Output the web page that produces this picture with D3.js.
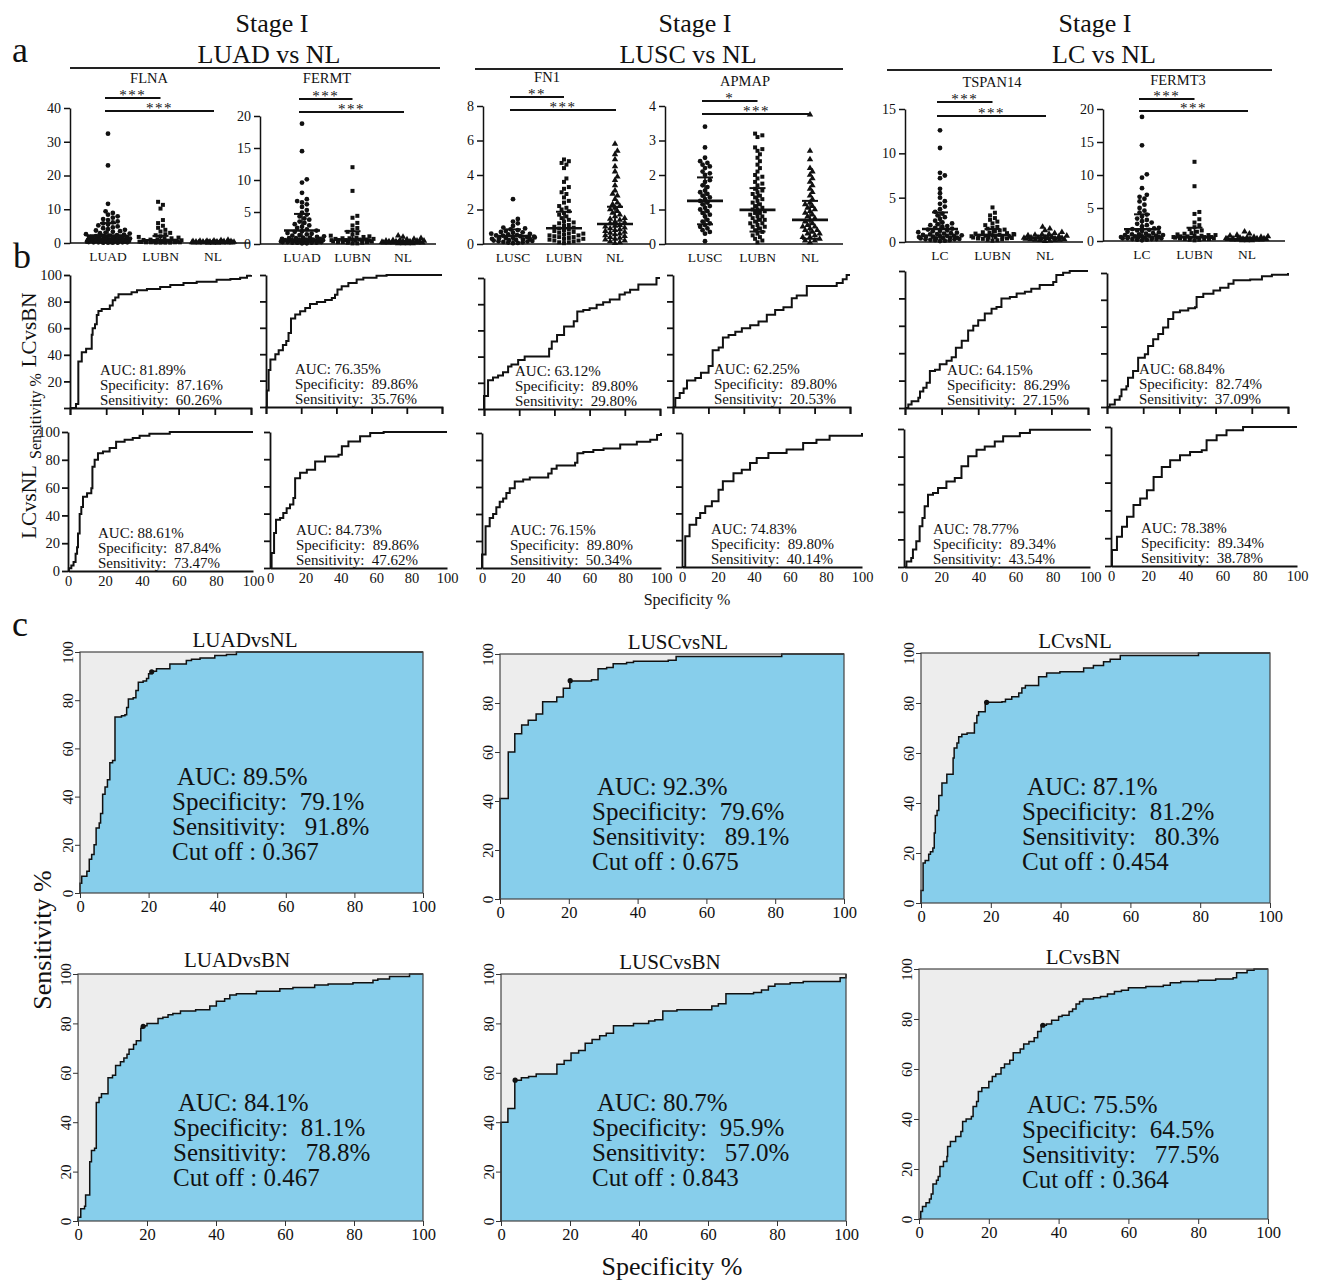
<!DOCTYPE html>
<html>
<head>
<meta charset="utf-8">
<script src="https://cdn.jsdelivr.net/npm/d3@7"></script>
<style>
  body { margin: 0; background: #fff; }
  svg { display: block; font-family: "Liberation Serif", "Times New Roman", serif; }
  text { white-space: pre; fill: #111; }
</style>
</head>
<body>
<svg id="fig" width="1319" height="1284"></svg>
<script>
// ---------- panel a : dot plots ----------
const headerStage = "Stage I";
const headerTitles = ["LUAD vs NL", "LUSC vs NL", "LC vs NL"];

const geneNames = ["FLNA", "FERMT", "FN1", "APMAP", "TSPAN14", "FERMT3"];
const dotGroups = [
  ["LUAD", "LUBN", "NL"], ["LUAD", "LUBN", "NL"],
  ["LUSC", "LUBN", "NL"], ["LUSC", "LUBN", "NL"],
  ["LC", "LUBN", "NL"], ["LC", "LUBN", "NL"]
];
const yMax = [40, 20, 8, 4, 15, 20];
const yStep = [10, 5, 2, 1, 5, 5];
const sigShort = ["***", "***", "**", "*", "***", "***"];
const sigLong = ["***", "***", "***", "***", "***", "***"];
const groupMeans = [[2.2, 0.8, 0.3], [2.1, 0.7, 0.35], [0.46, 0.91, 1.16], [1.25, 0.99, 0.7], [1.46, 0.79, 0.45], [1.77, 0.56, 0.3]];
const groupSD = [[3.7, 1.3, 0.2], [2.6, 1.3, 0.15], [0.39, 0.96, 1.0], [0.68, 0.63, 0.55], [1.88, 0.67, 0.25], [2.27, 1.45, 0.2]];

const flnaLUAD = [32.4, 23.0, 11.6, 9.4, 8.9, 8.4, 7.9, 7.5, 7.1, 6.8, 6.4, 6.1, 5.8, 5.5, 5.2, 4.9, 4.6, 4.4, 4.1, 3.9, 3.7, 3.5, 3.3, 3.1, 2.9, 2.8, 2.6, 2.5, 2.3, 2.2, 2.1, 2.0, 1.9, 1.8, 1.7, 1.6, 1.5, 1.4, 1.4, 1.3, 1.2, 1.2, 1.1, 1.0, 1.0, 0.9, 0.9, 0.8, 0.8, 0.7, 0.7, 0.6, 0.6, 0.6, 0.5, 0.5, 0.5, 0.4, 0.4, 0.4, 0.3, 0.3, 0.3, 0.3, 0.2, 0.2, 0.2, 0.2, 0.1, 0.1, 0.1, 0.1];
const flnaLUBN = [12.2, 11.3, 10.2, 6.8, 5.9, 5.1, 4.5, 3.9, 3.4, 3.0, 2.6, 2.3, 2.0, 1.8, 1.6, 1.4, 1.3, 1.1, 1.0, 0.9, 0.8, 0.7, 0.7, 0.6, 0.5, 0.5, 0.4, 0.4, 0.4, 0.3, 0.3, 0.3, 0.2, 0.2, 0.2, 0.2, 0.1, 0.1, 0.1, 0.1];
const flnaNL = [0.9, 0.8, 0.7, 0.6, 0.6, 0.5, 0.5, 0.5, 0.4, 0.4, 0.4, 0.4, 0.3, 0.3, 0.3, 0.3, 0.3, 0.2, 0.2, 0.2, 0.2, 0.2, 0.2, 0.1, 0.1, 0.1, 0.1, 0.1, 0.1, 0.05, 0.05, 0.05];

const fermtLUAD = [18.8, 14.5, 10.1, 9.6, 8.0, 7.0, 6.7, 6.5, 6.2, 5.8, 5.3, 4.9, 4.6, 4.3, 4.0, 3.8, 3.5, 3.3, 3.1, 2.9, 2.7, 2.5, 2.3, 2.1, 2.0, 1.9, 1.7, 1.6, 1.5, 1.4, 1.3, 1.2, 1.1, 1.0, 1.0, 0.9, 0.9, 0.8, 0.8, 0.7, 0.7, 0.7, 0.6, 0.6, 0.6, 0.5, 0.5, 0.5, 0.5, 0.4, 0.4, 0.4, 0.4, 0.3, 0.3, 0.3, 0.3, 0.3, 0.2, 0.2, 0.2, 0.2, 0.1, 0.1];
const fermtLUBN = [12.0, 8.3, 4.4, 4.1, 3.3, 2.9, 2.5, 2.2, 1.9, 1.7, 1.5, 1.3, 1.2, 1.1, 1.0, 0.9, 0.9, 0.8, 0.8, 0.7, 0.7, 0.7, 0.6, 0.6, 0.6, 0.5, 0.5, 0.5, 0.4, 0.4, 0.4, 0.3, 0.3, 0.3, 0.2, 0.2, 0.1, 0.1];
const fermtNL = [1.3, 1.1, 0.9, 0.8, 0.7, 0.6, 0.6, 0.5, 0.5, 0.5, 0.4, 0.4, 0.4, 0.4, 0.3, 0.3, 0.3, 0.3, 0.3, 0.2, 0.2, 0.2, 0.2, 0.2, 0.1, 0.1, 0.1, 0.1];

const fn1LUSC = [2.6, 1.45, 1.3, 1.2, 1.05, 0.95, 0.9, 0.85, 0.8, 0.75, 0.7, 0.68, 0.65, 0.6, 0.58, 0.55, 0.52, 0.5, 0.48, 0.45, 0.42, 0.4, 0.38, 0.36, 0.34, 0.32, 0.3, 0.28, 0.26, 0.24, 0.22, 0.2, 0.18, 0.16, 0.14, 0.12, 0.1, 0.08, 0.06, 0.05];
const fn1LUBN = [4.9, 4.8, 4.7, 4.6, 4.4, 3.8, 3.6, 3.3, 3.2, 3.0, 2.9, 2.7, 2.5, 2.4, 2.2, 2.1, 2.0, 1.9, 1.8, 1.7, 1.6, 1.5, 1.4, 1.3, 1.25, 1.2, 1.1, 1.05, 1.0, 0.95, 0.9, 0.85, 0.8, 0.75, 0.7, 0.65, 0.6, 0.6, 0.55, 0.5, 0.5, 0.45, 0.4, 0.4, 0.35, 0.3, 0.3, 0.25, 0.2, 0.2, 0.15, 0.1, 0.1, 0.05];
const fn1NL = [5.8, 5.4, 5.2, 4.9, 4.5, 4.2, 3.9, 3.7, 3.4, 3.1, 2.9, 2.8, 2.6, 2.4, 2.3, 2.2, 2.1, 2.0, 1.9, 1.8, 1.7, 1.6, 1.5, 1.45, 1.4, 1.3, 1.25, 1.2, 1.1, 1.05, 1.0, 0.95, 0.9, 0.85, 0.8, 0.75, 0.7, 0.65, 0.6, 0.55, 0.5, 0.45, 0.4, 0.35, 0.3, 0.25, 0.2, 0.15, 0.1, 0.05];

const apmapLUSC = [3.4, 2.8, 2.5, 2.4, 2.35, 2.3, 2.25, 2.2, 2.1, 2.05, 2.0, 1.85, 1.8, 1.7, 1.65, 1.55, 1.5, 1.45, 1.4, 1.35, 1.3, 1.25, 1.2, 1.15, 1.1, 1.05, 1.0, 0.95, 0.9, 0.85, 0.8, 0.7, 0.65, 0.6, 0.55, 0.5, 0.45, 0.4, 0.35, 0.3, 0.08];
const apmapLUBN = [3.2, 3.15, 3.1, 2.8, 2.75, 2.7, 2.6, 2.5, 2.4, 2.3, 2.2, 2.1, 2.0, 1.95, 1.9, 1.8, 1.75, 1.7, 1.6, 1.55, 1.5, 1.45, 1.4, 1.35, 1.3, 1.25, 1.2, 1.15, 1.1, 1.05, 1.0, 1.0, 0.95, 0.9, 0.9, 0.85, 0.8, 0.8, 0.75, 0.7, 0.7, 0.65, 0.6, 0.6, 0.55, 0.5, 0.5, 0.45, 0.4, 0.35, 0.3, 0.25, 0.2, 0.15, 0.1, 0.05];
const apmapNL = [3.75, 2.7, 2.45, 2.2, 2.1, 2.0, 1.9, 1.8, 1.7, 1.6, 1.5, 1.4, 1.3, 1.2, 1.15, 1.1, 1.05, 1.0, 0.95, 0.9, 0.85, 0.8, 0.75, 0.7, 0.65, 0.6, 0.55, 0.5, 0.5, 0.45, 0.4, 0.4, 0.35, 0.3, 0.3, 0.25, 0.2, 0.2, 0.15, 0.1, 0.1, 0.05];

const tspanLC = [12.6, 10.6, 7.8, 7.5, 7.2, 6.0, 5.5, 5.0, 4.6, 4.3, 4.0, 3.7, 3.4, 3.2, 3.0, 2.8, 2.6, 2.4, 2.2, 2.1, 2.0, 1.9, 1.8, 1.7, 1.6, 1.5, 1.4, 1.3, 1.25, 1.2, 1.1, 1.05, 1.0, 0.95, 0.9, 0.85, 0.8, 0.75, 0.7, 0.7, 0.65, 0.6, 0.6, 0.55, 0.5, 0.5, 0.45, 0.4, 0.4, 0.35, 0.3, 0.3, 0.25, 0.2, 0.2, 0.15, 0.1];
const tspanLUBN = [3.9, 3.3, 3.0, 2.7, 2.5, 2.3, 2.1, 1.9, 1.7, 1.6, 1.5, 1.4, 1.3, 1.2, 1.1, 1.05, 1.0, 0.95, 0.9, 0.85, 0.8, 0.75, 0.7, 0.7, 0.65, 0.6, 0.6, 0.55, 0.5, 0.5, 0.45, 0.4, 0.4, 0.35, 0.3, 0.25, 0.2, 0.15];
const tspanNL = [1.7, 1.5, 1.3, 1.1, 1.0, 0.9, 0.85, 0.8, 0.75, 0.7, 0.65, 0.6, 0.55, 0.5, 0.5, 0.45, 0.45, 0.4, 0.4, 0.35, 0.35, 0.3, 0.3, 0.25, 0.25, 0.2, 0.2, 0.15, 0.1];

const fermt3LC = [18.8, 14.5, 10.1, 9.6, 8.0, 7.0, 6.7, 6.4, 6.0, 5.5, 5.0, 4.6, 4.3, 4.0, 3.7, 3.4, 3.2, 3.0, 2.8, 2.6, 2.4, 2.2, 2.0, 1.9, 1.8, 1.7, 1.6, 1.5, 1.4, 1.3, 1.2, 1.1, 1.0, 1.0, 0.9, 0.9, 0.8, 0.8, 0.7, 0.7, 0.6, 0.6, 0.6, 0.5, 0.5, 0.5, 0.4, 0.4, 0.4, 0.3, 0.3, 0.3, 0.2, 0.2, 0.1];
const fermt3LUBN = [12.0, 8.3, 4.4, 4.1, 3.3, 2.8, 2.4, 2.1, 1.8, 1.6, 1.4, 1.2, 1.1, 1.0, 0.9, 0.9, 0.8, 0.8, 0.7, 0.7, 0.6, 0.6, 0.6, 0.5, 0.5, 0.5, 0.4, 0.4, 0.3, 0.3, 0.3, 0.2, 0.2, 0.1];
const fermt3NL = [1.4, 1.1, 0.9, 0.8, 0.7, 0.6, 0.6, 0.5, 0.5, 0.4, 0.4, 0.4, 0.4, 0.3, 0.3, 0.3, 0.3, 0.2, 0.2, 0.2, 0.2, 0.1, 0.1, 0.1];

const dotValues = [
  [flnaLUAD, flnaLUBN, flnaNL],
  [fermtLUAD, fermtLUBN, fermtNL],
  [fn1LUSC, fn1LUBN, fn1NL],
  [apmapLUSC, apmapLUBN, apmapNL],
  [tspanLC, tspanLUBN, tspanNL],
  [fermt3LC, fermt3LUBN, fermt3NL]
];

// ---------- panel b : small ROC curves ([100-specificity, sensitivity]) ----------
const bRowLabels = ["LCvsBN", "LCvsNL"];
const bBN_FLNA = [[0,0],[3.3,3],[4.6,35],[6.5,42],[8.9,44.5],[12,55],[12.5,60],[13.8,63],[14.8,70],[15.7,73],[17.5,74.5],[22,77],[23.6,81],[25,83],[26.8,85.5],[34,87],[37,88.5],[42.5,89.5],[49.8,91],[55.4,92.5],[62.7,94],[70,95],[81,96.5],[88.6,97],[94,98],[97.8,99.5],[100,100]];
const bBN_FERMT = [[0,0],[0.5,12.5],[1.5,28],[2.5,36],[5.3,40],[7.2,43],[9.6,47],[11.5,50],[12.8,56],[14.2,67],[16.6,70],[19.4,72.5],[22.3,75],[25,78],[28.9,79.5],[33.6,81],[37.4,82.5],[39.2,85],[40.6,89],[43,91.5],[46.8,94],[51.5,96.5],[55.3,98],[62.8,99.5],[68.5,100],[100,100]];
const bBN_FN1 = [[0,0],[0,10],[2.3,22],[5.1,24],[8,25.5],[10.8,28],[13.7,32.5],[15.6,34],[19.4,37.5],[23.1,40],[37,46],[38.5,51.5],[41.5,56.5],[45.5,63],[51,67],[53,74.5],[56.4,75.5],[60,77],[64,79.5],[67.7,81.5],[71.5,83.5],[77,87.5],[80,89],[83,91],[87.7,95],[98,100],[100,100]];
const bBN_APMAP = [[0,0],[1.3,6.8],[3.8,10.6],[6,14],[7.9,20],[12.6,22],[15.8,26],[20.1,31],[22.4,43],[25.8,45],[28.2,52.6],[31.4,54.6],[35.2,57],[38.9,59.7],[43.6,62],[48.3,64.7],[53,69.8],[57.7,73.5],[62.4,75.5],[67.1,82.4],[69.9,84.5],[75.6,91.7],[92.5,94],[95.9,96.7],[98.1,100],[100,100]];
const bBN_TSPAN14 = [[0,0],[1.8,2.5],[3.6,5],[7.3,7.4],[8.2,12],[10,14.7],[11.8,18.4],[13.6,27],[16.4,28],[19,32],[22.7,34.4],[25.5,37],[27.8,44],[31,49],[34.5,56.5],[37.3,60],[40,64],[43.6,69],[47.3,72.5],[50,73.7],[52.7,80],[57.3,81],[61,83.5],[65.5,84.8],[69,87],[73.6,89.7],[81,92],[82.7,97],[86.4,98.8],[90,100],[100,100]];
const bBN_FERMT3 = [[0,0],[1.5,1.8],[4.3,5.5],[7,8],[8,13],[10.7,15.5],[11.6,21.8],[14.4,26.8],[17.2,36.8],[20.9,39.3],[22.7,45.6],[25.5,50.6],[28.3,54.4],[31,59.4],[33.8,65.7],[36.6,70.7],[40.3,72],[44.9,73.7],[48.6,74.4],[49.5,82],[53.2,84.5],[58.8,87],[62.5,89],[67.1,92],[69.9,94.5],[79.1,95.2],[85.6,97.5],[91.1,98.7],[100,100]];
const bNL_FLNA = [[0,0],[0.5,2],[1.8,4],[3,6.5],[4.1,12.5],[4.9,17],[5.4,27],[6.3,41],[7.2,46],[8.1,53.5],[10.3,56],[12.6,59.5],[13.2,75],[14.4,80],[16.2,84.8],[18.9,86],[22.5,88.4],[26,93],[30.6,94.5],[35,95.7],[38.7,97.3],[44,98.8],[55,100],[100,100]];
const bNL_FERMT = [[0,0],[0.9,11],[2.3,25.7],[3.4,35.5],[5.7,36.8],[7.5,40.4],[9.4,44],[11.3,46.6],[13.2,51.5],[14.2,66],[17,70],[20.8,72.3],[25.5,78.4],[31.1,82],[38.7,83.3],[40.6,89.5],[44.3,93],[50.9,96.8],[56.6,99.3],[64.2,100],[100,100]];
const bNL_FN1 = [[0,0],[0,10],[2,31],[4.3,37],[6.2,40],[8,45],[9.9,49],[11.8,51.5],[13.6,55.5],[15.5,59],[18.3,64],[23,65.5],[26.7,67],[37,70],[38.9,73.5],[41.7,76],[52,78],[53.3,85],[56.6,86],[62.2,87.5],[67.9,88.5],[77.2,91.5],[86.5,93.5],[94,95],[97.8,98.5],[100,100]];
const bNL_APMAP = [[0,0],[1.8,22.9],[4.2,31.6],[7.9,36.6],[10.1,40.3],[12.9,45.3],[16.6,49],[20.3,57.7],[22.7,64],[28.6,70],[33.2,72.6],[37.8,77.6],[41.5,81.3],[48,85],[58.1,87.6],[67.3,92.5],[74.7,95],[82,98],[100,100]];
const bNL_TSPAN14 = [[0,0],[1.3,4],[3.9,6.5],[4.8,12.6],[6.6,18.6],[8.4,29.5],[9.9,35.5],[11.1,44],[12.9,52.4],[15.6,53.6],[18.3,57.2],[22.8,62],[27.3,64.5],[30.9,73],[34.5,80.2],[39,85],[43.4,87.4],[48.8,91],[53.3,94.7],[62.3,97.1],[67.7,99.5],[100,100]];
const bNL_FERMT3 = [[0,0],[0.5,11.5],[3.2,21],[5.9,28.2],[8.6,35.4],[12.1,43.8],[15.7,48.6],[19.3,54.5],[22.9,64.1],[27.3,71.3],[31.8,76],[37.1,79.7],[42.5,82],[48.8,83.3],[51.4,90.4],[56.8,94],[62.1,97.6],[71,100],[100,100]];
const bCurves = [bBN_FLNA, bBN_FERMT, bBN_FN1, bBN_APMAP, bBN_TSPAN14, bBN_FERMT3,
                 bNL_FLNA, bNL_FERMT, bNL_FN1, bNL_APMAP, bNL_TSPAN14, bNL_FERMT3];
const bAUC  = ["81.89%", "76.35%", "63.12%", "62.25%", "64.15%", "68.84%", "88.61%", "84.73%", "76.15%", "74.83%", "78.77%", "78.38%"];
const bSpec = ["87.16%", "89.86%", "89.80%", "89.80%", "86.29%", "82.74%", "87.84%", "89.86%", "89.80%", "89.80%", "89.34%", "89.34%"];
const bSens = ["60.26%", "35.76%", "29.80%", "20.53%", "27.15%", "37.09%", "73.47%", "47.62%", "50.34%", "40.14%", "43.54%", "38.78%"];

// ---------- panel c : large ROC curves ----------
const cTitles = ["LUADvsNL", "LUSCvsNL", "LCvsNL", "LUADvsBN", "LUSCvsBN", "LCvsBN"];
const cNL_LUAD = [[0,0],[0,4],[0.5,7],[2,9],[2.7,14],[3.4,16],[4.1,20],[4.7,27],[5.6,29],[6,33],[6.6,41],[7.3,44],[8,47],[8.7,54],[9.5,55],[10.2,73],[12.1,73.5],[13.1,74],[13.6,77],[14.1,80.5],[15.5,81],[16.3,84],[17,87.5],[18.4,88],[19.4,89],[20,91],[21,92],[22.3,93],[26.2,95],[31,96.5],[32.5,97],[35,97.5],[39.3,98.5],[42.7,99],[45.6,100],[100,100]];
const cNL_LUSC = [[0,0],[0,41],[2.4,60],[4.3,67.5],[6.3,71],[8.2,73],[10.5,75.5],[12.4,80.5],[16.5,82.5],[18.4,86],[20.3,89],[26.6,89.5],[28.5,94],[31,94.5],[32.9,96],[36.8,96.5],[38.8,97],[48.9,97.5],[51.2,99],[81.9,100],[100,100]];
const cNL_LC = [[0,0],[0,5],[0.6,16],[1.2,17],[2.2,19.5],[2.7,20.5],[3.4,22],[3.8,28],[4.1,35],[4.6,37],[5.1,43],[6,48],[7.4,51.5],[9.2,58],[9.5,62],[10.3,64],[10.8,66.5],[11.7,67.5],[13.2,68],[15.3,72],[16,75],[16.5,76.5],[18.4,79.5],[18.8,80.3],[23.2,80.5],[24.2,81.5],[26,82.5],[28,84],[28.9,86],[29.9,87],[33.7,90.5],[36,92],[39.8,92.5],[46.6,94],[49.4,95],[52.3,96.5],[54.2,97.5],[57.1,99],[79.5,100],[100,100]];
const cBN_LUAD = [[0,0],[0,1.5],[0.8,5],[1.9,6],[2.2,10.5],[3.4,24],[3.9,28.5],[4.8,29.5],[5.3,48],[6.1,50],[6.8,51.5],[8.7,58],[10,59],[10.9,63],[12.3,64.5],[13.3,66],[14.2,67.5],[14.8,69.5],[16.1,71.5],[16.9,73],[18.2,78],[18.6,79],[20,80],[23.2,82],[24.6,82.5],[26.1,83.5],[27.5,84],[29.7,85],[34.1,85.5],[38.2,87],[40.1,89],[42.5,90],[44,91.5],[45.9,92],[51.7,93],[58.5,94],[62.3,94.5],[68.6,95.5],[72.5,96],[79.7,96.5],[85.5,97.5],[86.9,98],[90.3,99],[96.1,100],[100,100]];
const cBN_LUSC = [[0,0],[0,40],[2,45.5],[4,57],[5.9,58],[8,58.5],[10.2,59.5],[16.2,63.5],[18.3,65],[20.3,68],[22.5,69],[24.4,72],[26.4,73.5],[28.6,75],[30.5,76],[32.6,79],[38.4,80],[42.8,81],[44.6,81.5],[46.9,85],[51,85.5],[61.1,87],[63,88],[65.2,92],[73.2,92.5],[75.5,93.5],[77.5,95],[79.4,96],[83.8,96.5],[87.6,97],[98.3,98.5],[100,100]];
const cBN_LC = [[0,0],[0.5,3],[1,5],[2,6.5],[3,8],[3.5,10],[4,14],[5,15.5],[5.5,17],[6,21],[7,23],[8,25],[8.2,29],[9,31],[10.5,33],[12,35],[12.5,39],[13.5,40],[15,41],[15.5,45],[16.5,47],[17,51],[18,52.5],[20,55],[21,57],[22,58],[23.5,60.5],[24.5,62],[26,63.5],[27,66.5],[29,68],[30,70],[31.5,71],[33,72.5],[34,75],[35,77.5],[36.5,78],[38,79.5],[40,81],[41,81.5],[43,83],[44,84],[45,86],[46,87],[47,88],[50,88.5],[52,89],[54,90],[56,91],[58,91.5],[60,92.5],[65,93],[70,93.5],[72,94.5],[75,95],[80,95.5],[85,96],[90,96.5],[91,98.5],[94,99.5],[96,100],[100,100]];
const cCurves = [cNL_LUAD, cNL_LUSC, cNL_LC, cBN_LUAD, cBN_LUSC, cBN_LC];
const cAUC  = ["89.5%", "92.3%", "87.1%", "84.1%", "80.7%", "75.5%"];
const cSpec = [79.1, 79.6, 81.2, 81.1, 95.9, 64.5];
const cSens = [91.8, 89.1, 80.3, 78.8, 57.0, 77.5];
const cCut  = ["0.367", "0.675", "0.454", "0.467", "0.843", "0.364"];

const rocTicks = [0, 20, 40, 60, 80, 100];

// ---------- layout ----------
const svg = d3.select("#fig");

// d3 axes put sans-serif on their group; drop it so the page serif applies
function styleAxis(sel, size) {
  sel.attr("font-family", null).attr("font-size", null);
  sel.selectAll("text").attr("font-size", size).attr("fill", "#111");
  return sel;
}

[["a", 12, 62], ["b", 13, 268], ["c", 12, 636]].forEach(([t, x, y]) => {
  svg.append("text").attr("x", x).attr("y", y).attr("font-size", 36).text(t);
});

const headerLayout = [
  { x1: 70, x2: 440, cs: 272, ct: 269, ly: 68 },
  { x1: 475, x2: 843, cs: 695, ct: 688, ly: 69 },
  { x1: 887, x2: 1272, cs: 1095, ct: 1104, ly: 70 }
];
headerLayout.forEach((h, i) => {
  svg.append("text").attr("x", h.cs).attr("y", 32).attr("text-anchor", "middle")
    .attr("font-size", 26).text(headerStage);
  svg.append("text").attr("x", h.ct).attr("y", 63).attr("text-anchor", "middle")
    .attr("font-size", 26).text(headerTitles[i]);
  svg.append("line").attr("x1", h.x1).attr("x2", h.x2).attr("y1", h.ly).attr("y2", h.ly)
    .attr("stroke", "#222").attr("stroke-width", 2);
});

const dotLayout = [
  { ax: 70, top: 108, bot: 243, w: 180, c0: 38, c2: 143, tx: 149, ty: 83, s1: 98, s2: 111 },
  { ax: 260, top: 116, bot: 244, w: 176, c0: 42, c2: 143, tx: 327, ty: 83, s1: 99, s2: 112 },
  { ax: 483, top: 106, bot: 244, w: 167, c0: 30, c2: 132, tx: 547, ty: 82, s1: 97, s2: 110 },
  { ax: 665, top: 106, bot: 244, w: 178, c0: 40, c2: 145, tx: 745, ty: 86, s1: 101, s2: 114 },
  { ax: 905, top: 109, bot: 242, w: 178, c0: 35, c2: 140, tx: 992, ty: 87, s1: 102, s2: 116 },
  { ax: 1103, top: 109, bot: 241, w: 182, c0: 39, c2: 144, tx: 1178, ty: 85, s1: 99, s2: 111 }
];
const symbolTypes = [d3.symbolCircle, d3.symbolSquare, d3.symbolTriangle];
const symbolSizes = [18, 16, 18];

function swarm(values, y, cx, r, maxHalf) {
  const placed = [];
  const sorted = values.slice().sort((a, b) => a - b);
  return sorted.map((v, n) => {
    const py = y(v);
    let px = null;
    for (let k = 0; k < 60; k++) {
      const dx = (k % 2 ? 1 : -1) * Math.ceil(k / 2) * r * 1.05;
      if (Math.abs(dx) > maxHalf) break;
      const ok = placed.every(p => (p.x - (cx + dx)) ** 2 + (p.y - py) ** 2 >= (1.8 * r) ** 2);
      if (ok) { px = cx + dx; break; }
    }
    if (px === null) px = cx - maxHalf + ((n * 7) % (2 * maxHalf + 1));
    const p = { x: px, y: py };
    placed.push(p);
    return p;
  });
}

dotLayout.forEach((L, i) => {
  const g = svg.append("g");
  const y = d3.scaleLinear().domain([0, yMax[i]]).range([L.bot, L.top]);
  const x = d3.scalePoint().domain(dotGroups[i]).range([L.ax + L.c0, L.ax + L.c2]);

  const ya = g.append("g").attr("transform", `translate(${L.ax},0)`)
    .call(d3.axisLeft(y).tickValues(d3.range(0, yMax[i] + yStep[i] / 2, yStep[i]))
      .tickSize(6).tickSizeOuter(0).tickPadding(3).tickFormat(d3.format("d")));
  styleAxis(ya, 14);
  ya.selectAll("line,path").attr("stroke", "#111").attr("stroke-width", 1.5);

  g.append("line").attr("x1", L.ax).attr("x2", L.ax + L.w).attr("y1", L.bot).attr("y2", L.bot)
    .attr("stroke", "#111").attr("stroke-width", 1.5);

  dotGroups[i].forEach((cat, j) => {
    g.append("text").attr("x", x(cat)).attr("y", L.bot + 18).attr("text-anchor", "middle")
      .attr("font-size", 13.5).text(cat);
    const pts = swarm(dotValues[i][j], y, x(cat), 2.3, 22);
    g.selectAll(null).data(pts).enter().append("path")
      .attr("transform", d => `translate(${d.x},${d.y})`)
      .attr("d", d3.symbol().type(symbolTypes[j]).size(symbolSizes[j]))
      .attr("fill", "#111");
    const m = groupMeans[i][j], sd = groupSD[i][j];
    const lo = Math.max(0, m - sd);
    g.append("line").attr("x1", x(cat) - 18).attr("x2", x(cat) + 18).attr("y1", y(m)).attr("y2", y(m))
      .attr("stroke", "#111").attr("stroke-width", 2.6);
    g.append("line").attr("x1", x(cat)).attr("x2", x(cat)).attr("y1", y(lo)).attr("y2", y(m + sd))
      .attr("stroke", "#111").attr("stroke-width", 1.6);
    g.append("line").attr("x1", x(cat) - 8).attr("x2", x(cat) + 8).attr("y1", y(m + sd)).attr("y2", y(m + sd))
      .attr("stroke", "#111").attr("stroke-width", 2);
    if (lo > yMax[i] * 0.03) {
      g.append("line").attr("x1", x(cat) - 8).attr("x2", x(cat) + 8).attr("y1", y(lo)).attr("y2", y(lo))
        .attr("stroke", "#111").attr("stroke-width", 2);
    }
  });

  g.append("text").attr("x", L.tx).attr("y", L.ty).attr("text-anchor", "middle")
    .attr("font-size", 14.5).text(geneNames[i]);

  const c = dotGroups[i].map(d => x(d));
  [[c[0] - 3, c[1], L.s1, sigShort[i]], [c[0] - 3, c[2] + 1, L.s2, sigLong[i]]].forEach(([a, b, yy, s]) => {
    g.append("line").attr("x1", a).attr("x2", b).attr("y1", yy).attr("y2", yy)
      .attr("stroke", "#111").attr("stroke-width", 2);
    g.append("text").attr("x", (a + b) / 2).attr("y", yy + 2).attr("text-anchor", "middle")
      .attr("font-size", 15).attr("letter-spacing", 1.5).text(s);
  });
});

// ---------- panel b ----------
const bLayout = [
  { x: 70, y: 275, w: 181, h: 133, tx: 100 },
  { x: 266, y: 275, w: 176, h: 132, tx: 295 },
  { x: 484, y: 278, w: 176, h: 131, tx: 515 },
  { x: 673, y: 275, w: 177, h: 132, tx: 714 },
  { x: 905, y: 271, w: 183, h: 137, tx: 947 },
  { x: 1107, y: 273, w: 181, h: 134, tx: 1139 },
  { x: 68, y: 432, w: 185, h: 139, tx: 98 },
  { x: 270, y: 432, w: 177, h: 136, tx: 296 },
  { x: 482, y: 433, w: 179, h: 135, tx: 510 },
  { x: 682, y: 433, w: 180, h: 134, tx: 711 },
  { x: 904, y: 429, w: 186, h: 138, tx: 933 },
  { x: 1111, y: 427, w: 186, h: 139, tx: 1141 }
];

bLayout.forEach((L, i) => {
  const row = Math.floor(i / 6), col = i % 6;
  const g = svg.append("g");
  const x = d3.scaleLinear().domain([0, 100]).range([L.x, L.x + L.w]);
  const y = d3.scaleLinear().domain([0, 100]).range([L.y + L.h, L.y]);

  const ya = g.append("g").attr("transform", `translate(${L.x},0)`)
    .call(d3.axisLeft(y).tickValues(rocTicks).tickSize(6).tickSizeOuter(0).tickPadding(2)
      .tickFormat(d => (col === 0 && !(row === 0 && d === 0)) ? d : ""));
  styleAxis(ya, 14.5);

  const xa = g.append("g").attr("transform", `translate(0,${L.y + L.h})`)
    .call(d3.axisBottom(x).tickValues(rocTicks).tickSizeOuter(0)
      .tickSize(row === 0 ? 7 : 0).tickPadding(row === 0 ? 3 : 5)
      .tickFormat(d => row === 1 ? d : ""));
  styleAxis(xa, 14.5);
  g.selectAll("line,path").attr("stroke", "#111").attr("stroke-width", 1.8);

  g.append("path").datum(bCurves[i])
    .attr("d", d3.line().x(d => x(d[0])).y(d => y(d[1])).curve(d3.curveStepAfter))
    .attr("fill", "none").attr("stroke", "#111").attr("stroke-width", 2);

  const base = L.y + L.h - 33;
  [`AUC: ${bAUC[i]}`, `Specificity:  ${bSpec[i]}`, `Sensitivity:  ${bSens[i]}`].forEach((t, k) => {
    g.append("text").attr("x", L.tx).attr("y", base + k * 15).attr("font-size", 15).text(t);
  });
});

svg.append("text").attr("transform", "translate(29,330) rotate(-90)").attr("text-anchor", "middle")
  .attr("dy", "0.35em").attr("font-size", 21).text(bRowLabels[0]);
svg.append("text").attr("transform", "translate(29,502) rotate(-90)").attr("text-anchor", "middle")
  .attr("dy", "0.35em").attr("font-size", 21).text(bRowLabels[1]);
svg.append("text").attr("transform", "translate(35,416) rotate(-90)").attr("text-anchor", "middle")
  .attr("dy", "0.35em").attr("font-size", 16).text("Sensitivity %");
svg.append("text").attr("x", 687).attr("y", 605).attr("text-anchor", "middle")
  .attr("font-size", 16).text("Specificity %");

// ---------- panel c ----------
const cLayout = [
  { l: 80, t: 652, r: 423, b: 893, titleX: 245, titleY: 647, tx: 172, ty: 785 },
  { l: 500, t: 654, r: 844, b: 899, titleX: 678, titleY: 649, tx: 592, ty: 795 },
  { l: 921, t: 653, r: 1270, b: 903, titleX: 1075, titleY: 648, tx: 1022, ty: 795 },
  { l: 78, t: 974, r: 423, b: 1221, titleX: 237, titleY: 967, tx: 173, ty: 1111 },
  { l: 501, t: 974, r: 846, b: 1221, titleX: 670, titleY: 969, tx: 592, ty: 1111 },
  { l: 919, t: 969, r: 1268, b: 1219, titleX: 1083, titleY: 964, tx: 1022, ty: 1113 }
];

cLayout.forEach((L, i) => {
  const g = svg.append("g");
  const x = d3.scaleLinear().domain([0, 100]).range([L.l, L.r]);
  const y = d3.scaleLinear().domain([0, 100]).range([L.b, L.t]);

  g.append("rect").attr("x", L.l).attr("y", L.t).attr("width", L.r - L.l).attr("height", L.b - L.t)
    .attr("fill", "#ededed");
  g.append("path").datum(cCurves[i])
    .attr("d", d3.area().x(d => x(d[0])).y0(L.b).y1(d => y(d[1])).curve(d3.curveStepAfter))
    .attr("fill", "#87ceeb");
  g.append("path").datum(cCurves[i])
    .attr("d", d3.line().x(d => x(d[0])).y(d => y(d[1])).curve(d3.curveStepAfter))
    .attr("fill", "none").attr("stroke", "#111").attr("stroke-width", 1.5);
  g.append("rect").attr("x", L.l).attr("y", L.t).attr("width", L.r - L.l).attr("height", L.b - L.t)
    .attr("fill", "none").attr("stroke", "#444").attr("stroke-width", 1.2);
  g.append("circle").attr("cx", x(100 - cSpec[i])).attr("cy", y(cSens[i])).attr("r", 2.6).attr("fill", "#111");

  const xa = g.append("g").attr("transform", `translate(0,${L.b})`)
    .call(d3.axisBottom(x).tickValues(rocTicks).tickSize(5).tickSizeOuter(0).tickPadding(2));
  styleAxis(xa, 16.5);
  xa.select(".domain").remove();

  const ya = g.append("g").attr("transform", `translate(${L.l},0)`)
    .call(d3.axisLeft(y).tickValues(rocTicks).tickSize(5).tickSizeOuter(0));
  ya.select(".domain").remove();
  styleAxis(ya, 15);
  ya.selectAll("text").attr("x", null).attr("dy", null).attr("text-anchor", "middle")
    .attr("transform", "translate(-7,0) rotate(-90)");
  g.selectAll(".tick line").attr("stroke", "#333");

  g.append("text").attr("x", L.titleX).attr("y", L.titleY).attr("text-anchor", "middle")
    .attr("font-size", 21).text(cTitles[i]);

  const lines = [
    [L.tx + 5, `AUC: ${cAUC[i]}`],
    [L.tx, `Specificity:  ${cSpec[i].toFixed(1)}%`],
    [L.tx, `Sensitivity:   ${cSens[i].toFixed(1)}%`],
    [L.tx, `Cut off : ${cCut[i]}`]
  ];
  lines.forEach(([tx, t], k) => {
    g.append("text").attr("x", tx).attr("y", L.ty + k * 25).attr("font-size", 25).text(t);
  });
});

svg.append("text").attr("transform", "translate(51,940) rotate(-90)").attr("text-anchor", "middle")
  .attr("font-size", 26).text("Sensitivity %");
svg.append("text").attr("x", 672).attr("y", 1275).attr("text-anchor", "middle")
  .attr("font-size", 26).text("Specificity %");
</script>
</body>
</html>
